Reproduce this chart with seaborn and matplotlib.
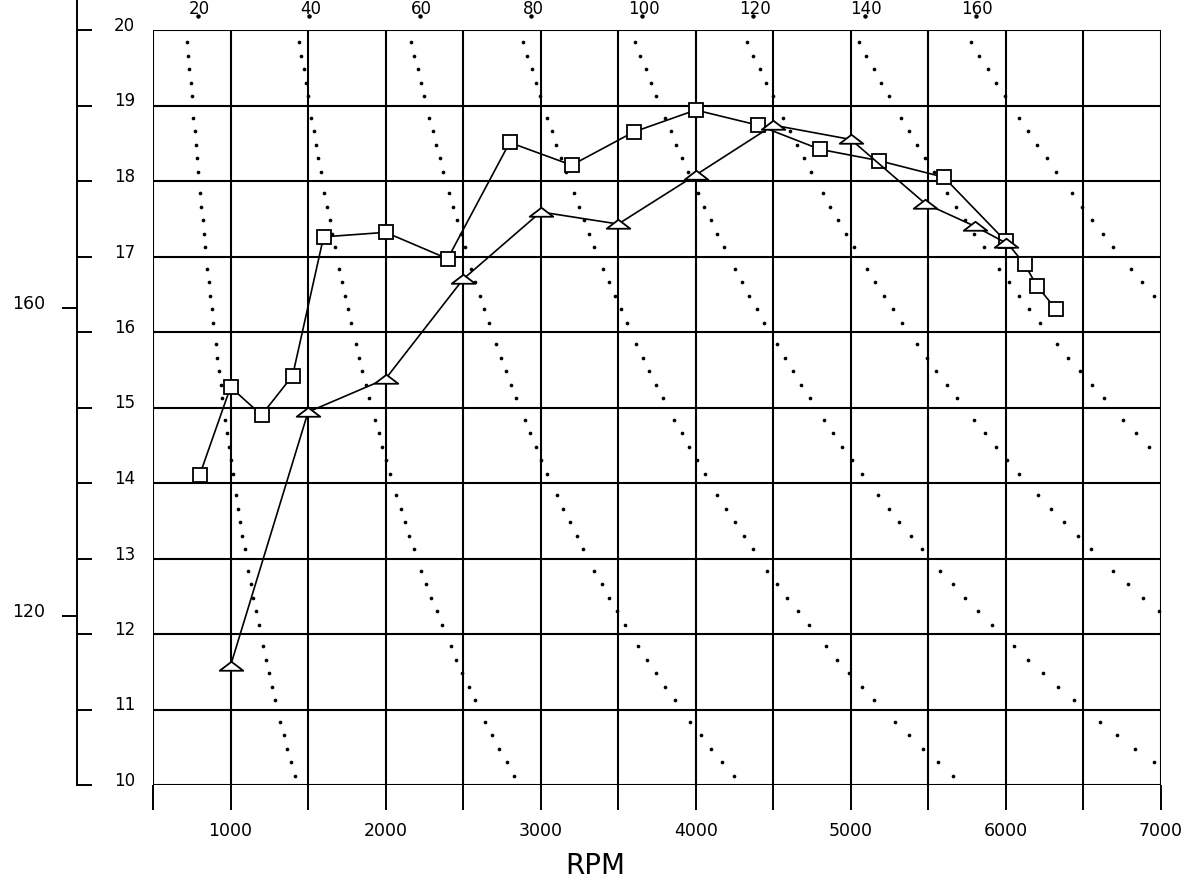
import numpy as np
import pandas as pd
import matplotlib
matplotlib.use("Agg")
import matplotlib.pyplot as plt
from matplotlib.path import Path
from matplotlib.ticker import MultipleLocator, FuncFormatter
import seaborn as sns

# ---- data (torque in kgm vs RPM) ----
rpm_sq = [800, 1000, 1200, 1400, 1600, 2000, 2400, 2800, 3200, 3600, 4000,
          4400, 4800, 5180, 5600, 6000, 6120, 6200, 6320]
tq_sq = [14.10, 15.27, 14.90, 15.42, 17.26, 17.32, 16.97, 18.51, 18.21, 18.65,
         18.94, 18.74, 18.42, 18.27, 18.05, 17.20, 16.90, 16.61, 16.31]

rpm_tri = [1000, 1500, 2000, 2500, 3000, 3500, 4000, 4500, 5000, 5480, 5800, 6000]
tq_tri = [11.58, 14.94, 15.38, 16.70, 17.59, 17.43, 18.08, 18.74, 18.55, 17.70,
          17.40, 17.18]

hp_levels = [20, 40, 60, 80, 100, 120, 140, 160]   # constant-power (PS) reference curves
PS_CONST = 716.2                                  # PS = kgm * rpm / 716.2
NM_PER_KGM = 9.80665
nm_ticks = [120, 160]
x_major_labels = [1000, 2000, 3000, 4000, 5000, 6000, 7000]

# ---- figure ----
sns.set_theme(style="white")
plt.rcParams['font.family'] = ['DejaVu Sans']
plt.rcParams['text.color'] = 'black'
plt.rcParams['axes.labelcolor'] = 'black'
plt.rcParams['xtick.color'] = 'black'
plt.rcParams['ytick.color'] = 'black'
fig = plt.figure(figsize=(11.91, 8.95), dpi=100)
L, R, T, B = 153 / 1191, 1161 / 1191, 1 - 31 / 895, 1 - 786 / 895
ax = fig.add_axes([L, B, R - L, T - B])
ax.set_facecolor('white')

# constant-power dotted curves
tq_samples = np.array([n + f for n in range(10, 20) for f in (0.12, 0.30, 0.48, 0.66, 0.84)])
rows = []
for hp in hp_levels:
    for t in tq_samples:
        rows.append({"hp": hp, "tq": t, "rpm": hp * PS_CONST / t})
dots = pd.DataFrame(rows)
dots = dots[(dots.rpm >= 500) & (dots.rpm <= 7000)]
sns.scatterplot(data=dots, x="rpm", y="tq", s=7, color="black", linewidth=0,
                ax=ax, legend=False, zorder=2)

# flattened triangle marker
tri = Path([(-1, -0.36), (1, -0.36), (0, 0.40), (-1, -0.36)],
           [Path.MOVETO, Path.LINETO, Path.LINETO, Path.CLOSEPOLY])

sns.lineplot(x=rpm_sq, y=tq_sq, ax=ax, color="black", lw=1.2, sort=False,
             marker='s', markersize=10, markerfacecolor='white',
             markeredgecolor='black', markeredgewidth=1.3, zorder=4)
sns.lineplot(x=rpm_tri, y=tq_tri, ax=ax, color="black", lw=1.2, sort=False,
             marker=tri, markersize=17, markerfacecolor='white',
             markeredgecolor='black', markeredgewidth=1.3, zorder=4)

ax.set_xlim(500, 7000)
ax.set_ylim(10, 20)

# grid forms the frame
ax.xaxis.set_major_locator(MultipleLocator(500))
ax.yaxis.set_major_locator(MultipleLocator(1))
ax.grid(True, color='black', lw=1.5)
ax.set_axisbelow(True)
for s in ('top', 'right', 'bottom'):
    ax.spines[s].set_visible(False)

ax.xaxis.set_major_formatter(FuncFormatter(
    lambda v, p: f"{int(v)}" if int(round(v)) in x_major_labels else ""))
ax.tick_params(axis='x', direction='out', length=18, width=1.4, color='black',
               labelcolor='black', labelsize=12.5, pad=8, bottom=True)

# left outer axis (kgm)
ax.spines['left'].set_position(('axes', (77 - 153) / 1008))
ax.spines['left'].set_color('black')
ax.spines['left'].set_linewidth(1.4)
ax.spines['left'].set_bounds(10, 20.42)
ax.tick_params(axis='y', direction='in', length=11, width=1.4, color='black',
               labelcolor='black', labelsize=12, pad=-42, left=True)
ax.yaxis.set_major_formatter(FuncFormatter(lambda v, p: f"{int(round(v))}"))
for lab in ax.get_yticklabels():
    lab.set_verticalalignment('baseline')

# Nm scale
sec = ax.secondary_yaxis((77 - 153) / 1008,
                         functions=(lambda t: t * NM_PER_KGM, lambda n: n / NM_PER_KGM))
sec.set_yticks(nm_ticks)
sec.tick_params(direction='out', length=11, width=1.4, color='black',
                labelcolor='black', labelsize=12.5, pad=12)
sec.spines['left'].set_visible(False)
for lab in sec.get_yticklabels():
    lab.set_verticalalignment('baseline')

# hp labels at top
for hp in hp_levels:
    x0 = hp * PS_CONST / 20
    ax.text(x0 + 85, 20.29, str(hp), ha='center', va='center', fontsize=12,
            color='black', clip_on=False)
    ax.plot([x0 + 75], [20.19], marker='o', ms=2.2, color='black', clip_on=False)

ax.set_xlabel("RPM", fontsize=20, color='black')
ax.set_ylabel("")
ax.xaxis.set_label_coords((595 - 153) / 1008, (786 - 852) / 755)

fig.savefig("out.png", dpi=100, facecolor='white')
